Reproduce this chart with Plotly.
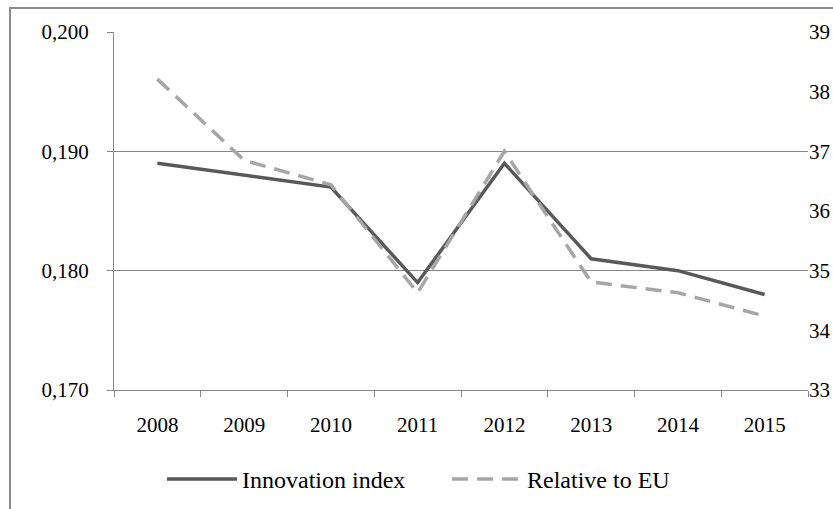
import plotly.graph_objects as go

years = ["2008", "2009", "2010", "2011", "2012", "2013", "2014", "2015"]
innovation_index = [0.189, 0.188, 0.187, 0.179, 0.189, 0.181, 0.180, 0.178]
relative_to_eu = [38.21, 36.85, 36.44, 34.63, 37.0, 34.81, 34.63, 34.24]

left_ticks = [0.170, 0.180, 0.190, 0.200]
right_ticks = [33, 34, 35, 36, 37, 38, 39]

FONT = "Liberation Serif"
GRID = "#878787"
TICKFONT = dict(family=FONT, size=21, color="black")

W, H = 833, 509
L, R, T, B = 114, 25, 32, 119
PW, PH = W - L - R, H - T - B

fig = go.Figure()

fig.add_trace(go.Scatter(
    x=years, y=innovation_index, name="Innovation index",
    mode="lines", line=dict(color="#595959", width=3.5),
    yaxis="y"
))
fig.add_trace(go.Scatter(
    x=years, y=relative_to_eu, name="Relative to EU",
    mode="lines", line=dict(color="#a6a6a6", width=3.5, dash="16px,9px"),
    yaxis="y2"
))

fig.update_layout(
    width=W, height=H,
    margin=dict(l=L, r=R, t=T, b=B, autoexpand=False),
    paper_bgcolor="white", plot_bgcolor="white",
    separators=", ",
    font=dict(family=FONT, size=21, color="black"),
    showlegend=True,
    legend=dict(orientation="h", x=(162 - L) / PW, xanchor="left", y=-0.25, yanchor="middle",
                font=dict(family=FONT, size=24), itemwidth=70, entrywidth=200,
                traceorder="normal"),
    xaxis=dict(
        type="category", range=[-0.5, 7.5], automargin=False, tickfont=TICKFONT,
        showline=True, linecolor=GRID, linewidth=1,
        ticks="outside", tickson="boundaries", ticklen=6, tickcolor=GRID,
        showgrid=False, ticklabelstandoff=16,
    ),
    yaxis=dict(
        range=[0.170, 0.200], tickvals=left_ticks, tickformat=".3f", automargin=False,
        tickfont=TICKFONT,
        showgrid=True, gridcolor=GRID, gridwidth=1,
        showline=True, linecolor=GRID, linewidth=1,
        ticks="outside", ticklen=6, tickcolor=GRID, ticklabelstandoff=14,
        zeroline=False,
    ),
    yaxis2=dict(
        range=[33, 39], tickvals=right_ticks, overlaying="y", side="right",
        automargin=False, tickfont=TICKFONT,
        showgrid=False, showline=False, ticks="",
        zeroline=False, ticklabelstandoff=0,
    ),
)

# outer chart frame
fig.add_shape(type="rect", xref="paper", yref="paper",
              x0=(10 - L) / PW, x1=1.2, y0=-0.5, y1=1 + (T - 8) / PH,
              line=dict(color="#8c8c8c", width=2), layer="below")

fig.write_html(
    "out.html",
    config={"displayModeBar": False},
    post_script="document.body.style.margin='0';document.body.style.overflow='hidden';",
)
